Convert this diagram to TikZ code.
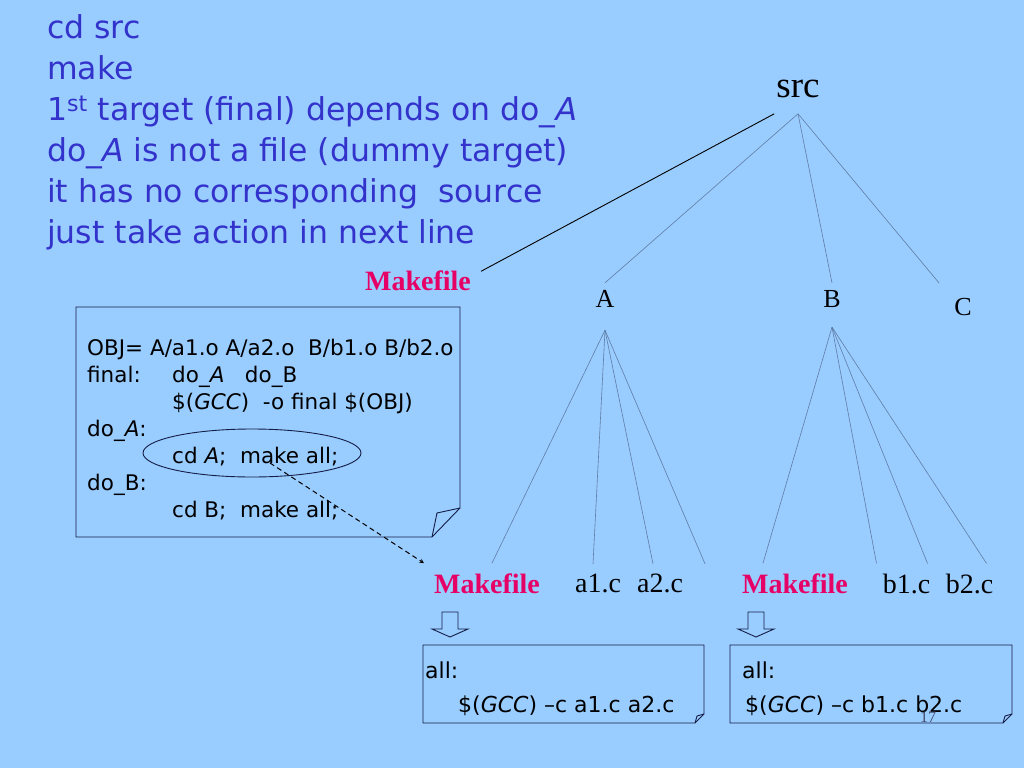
\documentclass[tikz,border=0pt]{standalone}
\usepackage{fontspec}
\setmainfont{Liberation Serif}
\newfontfamily\comicfont{DejaVu Sans}
\usetikzlibrary{shapes.geometric,arrows}
\definecolor{slidebg}{RGB}{153,204,255}
\definecolor{textblue}{RGB}{51,51,204}
\definecolor{mkpink}{RGB}{230,0,102}
\definecolor{treegray}{RGB}{95,125,165}
\definecolor{navy}{RGB}{20,30,70}

\begin{document}
\begin{tikzpicture}[x=1pt, y=-1pt, >=stealth]
			\tikzstyle{dirname} = [font=\fontsize{26}{30}\selectfont, inner sep=7.4pt]
			\tikzstyle{filename} = [font=\fontsize{28}{32}\selectfont, inner sep=10pt]
			\tikzstyle{mkfile} = [filename, font=\fontsize{28}{32}\selectfont\bfseries, text=mkpink]
			\tikzstyle{codetext} = [font=\comicfont\fontsize{21.5}{27}\selectfont, align=left, inner sep=0pt, anchor=north west]
			\tikzstyle{branch} = [draw=treegray, line width=0.6pt]
			\tikzstyle{note} = [draw=navy, line width=0.9pt]

			\fill[slidebg] (0,0) rectangle (1024,768);
			\useasboundingbox (0,0) rectangle (1024,768);

			% steps
			\node[anchor=north west, align=left, inner sep=0pt, text=textblue,
			      font=\comicfont\fontsize{31.5}{41}\selectfont] (steps) at (47,14)
			{cd src\\
			 make\\
			 1\textsuperscript{st} target (final) depends on do\_\textit{A}\\
			 do\_\textit{A} is not a file (dummy target)\\
			 it has no corresponding\ \ source\\
			 just take action in next line};

			% tree
			\node[font=\fontsize{37}{40}\selectfont, inner xsep=2pt, inner ysep=16pt] (src) at (798,88.7) {src};
			\node[dirname] (a) at (605,299) {A};
			\node[dirname] (b) at (832,299) {B};
			\node[dirname, inner sep=15pt] (c) at (963,307) {C};
			\node[mkfile] (mk) at (418,280.3) {Makefile};

			\coordinate (atop) at ([yshift=-15pt]a.south);
			\coordinate (btop) at ([yshift=-12pt]b.south);

			\node[mkfile] (mka) at (487,583.3) {Makefile};
			\node[filename] (a1) at (598,583.5) {a1.c};
			\node[filename] (a2) at (660,583.5) {a2.c};
			\node[mkfile] (mkb) at (795,583.3) {Makefile};
			\node[filename] (b1) at (906.5,583.5) {b1.c};
			\node[filename] (b2) at (969.5,583.5) {b2.c};

			\path[branch]
			(src.south) edge (a.north)
			(src.south) edge (b.north)
			(src.south) edge (c.north west)
			(atop) edge ([xshift=5pt]mka.north)
			(atop) edge ([xshift=-5pt]a1.north)
			(atop) edge ([xshift=-7pt]a2.north)
			(atop) edge ([xshift=45pt]a2.north)
			(btop) edge ([xshift=-32pt]mkb.north)
			(btop) edge ([xshift=-30pt]b1.north)
			(btop) edge ([xshift=21pt]b1.north)
			(btop) edge ([xshift=17pt]b2.north)
			;
			\draw[line width=0.9pt] (src.south west) -- ([yshift=9pt]mk.east);

			% top Makefile
			\draw[note] (76,307) -- (460,307) -- (460,508) -- (432,537) -- (76,537) -- cycle;
			\draw[note] (432,537) -- (437,513) -- (460,508);
			\node[codetext] (code) at (87,339)
			{OBJ= A/a1.o A/a2.o\ \ B/b1.o B/b2.o\\
			 \makebox[85pt][l]{final:}do\_\textit{A}\ \ \ do\_B\\
			 \hspace*{85pt}\$(\textit{GCC})\ \ -o final \$(OBJ)\\
			 do\_\textit{A}:\\
			 \hspace*{85pt}cd \textit{A};\ \ make all;\\
			 do\_B:\\
			 \hspace*{85pt}cd B;\ \ make all;};
			\node[note, ellipse, minimum width=218pt, minimum height=48pt] (ell) at (252,453) {};
			\draw[->, dash pattern=on 5pt off 3.5pt, line width=1pt] ([xshift=18pt,yshift=-10pt]ell.center) -- (mka.north west);

			% sub Makefiles
			\foreach \x in {450,756}
			  \draw[note] (\x-8,612) -- (\x+8,612) -- (\x+8,629) -- (\x+18,629) -- (\x,637)
			    -- (\x-18,629) -- (\x-8,629) -- cycle;
			\draw[note] (423,645) -- (704,645) -- (704,714) -- (695,723) -- (423,723) -- cycle;
			\draw[note] (695,723) -- (697,716) -- (704,714);
			\draw[note] (730,645) -- (1012,645) -- (1012,714) -- (1003,723) -- (730,723) -- cycle;
			\draw[note] (1003,723) -- (1005,716) -- (1012,714);
			\node[codetext, font=\comicfont\fontsize{22}{34}\selectfont] (alla) at (425,661.7)
			{all:\\
			 \hspace*{33pt}\$(\textit{GCC}) \textendash c a1.c a2.c};
			\node[codetext, font=\comicfont\fontsize{22}{34}\selectfont] (allb) at (742,661.7)
			{all:\\
			 \hspace*{3pt}\$(\textit{GCC}) \textendash c b1.c b2.c};

			\node[font=\fontsize{16}{16}\selectfont, text=navy!80] (page) at (928,717) {17};
\end{tikzpicture}
\end{document}
